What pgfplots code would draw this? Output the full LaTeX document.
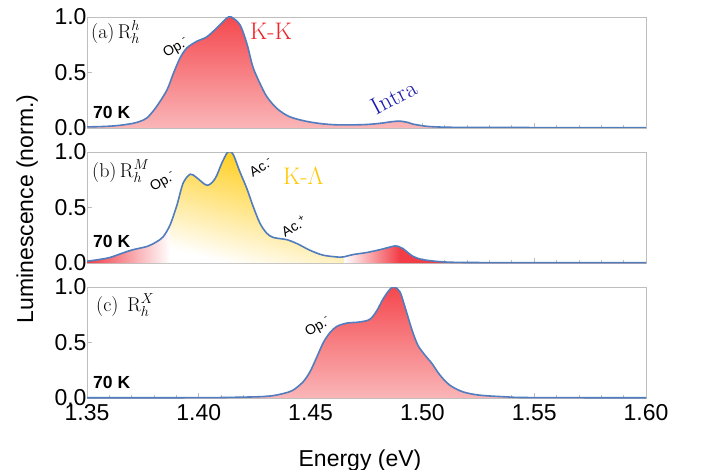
\documentclass[border=0pt]{standalone}
\usepackage{fontspec}
\setsansfont{Liberation Sans}
\usepackage{pgfplots}
\usepackage{pgfplotstable}
\pgfplotsset{compat=1.18}

\definecolor{lineblue}{RGB}{80,125,190}
\definecolor{fillred}{RGB}{244,72,78}
\definecolor{fillpink}{RGB}{250,182,184}
\definecolor{gold}{RGB}{255,200,0}
\definecolor{framegray}{RGB}{190,190,190}
\definecolor{intrablue}{RGB}{25,25,175}
\definecolor{kkred}{RGB}{240,35,40}
\definecolor{bred}{RGB}{242,60,70}

\newcommand{\hv}[1]{\fontsize{#1}{#1}\selectfont\sffamily}
\newcommand{\sr}[1]{\fontsize{#1}{#1}\selectfont\rmfamily}

\pgfplotstableread{
E I
1.3500 0.010
1.3550 0.012
1.3600 0.016
1.3650 0.025
1.3706 0.042
1.3740 0.062
1.3770 0.094
1.3810 0.190
1.3857 0.340
1.3886 0.490
1.3916 0.630
1.3946 0.720
1.3990 0.780
1.4035 0.820
1.4080 0.900
1.4125 0.990
1.4145 1.000
1.4184 0.930
1.4215 0.760
1.4242 0.550
1.4274 0.400
1.4305 0.280
1.4350 0.175
1.4408 0.100
1.4497 0.054
1.4600 0.030
1.4734 0.030
1.4810 0.042
1.4860 0.056
1.4900 0.062
1.4935 0.050
1.4958 0.035
1.5020 0.015
1.5090 0.008
1.5200 0.005
1.5500 0.004
1.6000 0.003
}\dataA

\pgfplotstableread{
E I
1.3500 0.016
1.3550 0.030
1.3603 0.050
1.3660 0.090
1.3706 0.120
1.3770 0.150
1.3810 0.190
1.3840 0.235
1.3871 0.340
1.3902 0.520
1.3930 0.720
1.3962 0.800
1.3990 0.770
1.4037 0.700
1.4073 0.760
1.4103 0.900
1.4130 1.000
1.4153 0.980
1.4184 0.820
1.4215 0.670
1.4243 0.510
1.4273 0.360
1.4303 0.270
1.4333 0.230
1.4394 0.210
1.4439 0.175
1.4497 0.115
1.4557 0.070
1.4632 0.052
1.4650 0.056
1.4690 0.076
1.4750 0.094
1.4810 0.120
1.4878 0.154
1.4900 0.142
1.4913 0.130
1.4958 0.060
1.5003 0.030
1.5079 0.012
1.5180 0.005
1.5500 0.003
1.6000 0.003
}\dataB

\pgfplotstableread{
E I
1.3500 0.002
1.4000 0.003
1.4153 0.006
1.4305 0.015
1.4377 0.040
1.4421 0.070
1.4466 0.145
1.4497 0.235
1.4528 0.370
1.4557 0.500
1.4587 0.590
1.4617 0.645
1.4663 0.675
1.4720 0.685
1.4766 0.710
1.4797 0.790
1.4825 0.895
1.4855 0.980
1.4875 1.000
1.4900 0.955
1.4922 0.820
1.4954 0.610
1.4980 0.475
1.5012 0.385
1.5043 0.310
1.5079 0.205
1.5123 0.115
1.5182 0.055
1.5258 0.025
1.5378 0.010
1.5480 0.004
1.6000 0.002
}\dataC

\pgfplotsset{panel/.style={
  scale only axis, width=559bp, height=111bp,
  anchor=north west,
  xmin=1.35, xmax=1.60, ymin=0, ymax=1.0,
  axis line style={framegray, line width=0.9bp},
  xtick={1.35,1.40,1.45,1.50,1.55,1.60},
  xticklabels={},
  minor x tick num=4,
  ytick={0,0.5,1},
  yticklabels={0.0,0.5,1.0},
  tick align=inside,
  xtick pos=bottom, ytick pos=left,
  major tick length=5bp, minor tick length=3bp,
  every tick/.style={framegray, line width=0.7bp},
  /pgf/number format/assume math mode=true,
  ticklabel style={font=\hv{23bp}},
  yticklabel style={xshift=3bp},
  xticklabel style={yshift=-3bp},
}}

\begin{document}
\begin{tikzpicture}
\path[use as bounding box] (0bp,0bp) rectangle (701bp,-470bp);

% panel a
\begin{axis}[panel, at={(87bp,-17bp)}]
\addplot[draw=none, top color=fillred, bottom color=fillpink, smooth] table[x=E,y=I] {\dataA} \closedcycle;
\addplot[lineblue, line width=1.6bp, smooth] table[x=E,y=I] {\dataA};
\end{axis}

% panel b
\begin{axis}[panel, at={(87bp,-152bp)}]
\addplot[draw=none, left color=bred, right color=white, smooth, restrict x to domain=1.35:1.3871] table[x=E,y=I] {\dataB} \closedcycle;
\addplot[draw=none, top color=gold, bottom color=white, shading angle=-15, smooth, restrict x to domain=1.3871:1.465] table[x=E,y=I] {\dataB} \closedcycle;
\addplot[draw=none, left color=white, right color=bred, smooth, restrict x to domain=1.465:1.490] table[x=E,y=I] {\dataB} \closedcycle;
\addplot[draw=none, fill=bred, smooth, restrict x to domain=1.490:1.60] table[x=E,y=I] {\dataB} \closedcycle;
\addplot[lineblue, line width=1.6bp, smooth] table[x=E,y=I] {\dataB};
\end{axis}

% panel c
\begin{axis}[panel, at={(87bp,-287bp)}, xticklabels={1.35,1.40,1.45,1.50,1.55,1.60}]
\addplot[draw=none, top color=fillred, bottom color=fillpink, smooth] table[x=E,y=I] {\dataC} \closedcycle;
\addplot[lineblue, line width=1.6bp, smooth] table[x=E,y=I] {\dataC};
\end{axis}

% axis labels
\node[rotate=90, anchor=base, font=\hv{23bp}] at (33bp,-209bp) {Luminescence (norm.)};
\node[anchor=base, font=\hv{23bp}] at (360bp,-466bp) {Energy (eV)};

% panel labels
\node[anchor=base west, inner sep=0, font=\sr{20bp}] at (91bp,-38bp) {(a)\,$\mathrm{R}_h^h$};
\node[anchor=base west, inner sep=0, font=\sr{20bp}] at (92bp,-177bp) {(b)\,$\mathrm{R}_h^M$};
\node[anchor=base west, inner sep=0, font=\sr{20bp}] at (96bp,-311bp) {(c)\;\,$\mathrm{R}_h^X$};

\node[anchor=base west, inner sep=0, font=\hv{17.5bp}\bfseries] at (93bp,-118bp) {70 K};
\node[anchor=base west, inner sep=0, font=\hv{17.5bp}\bfseries] at (93bp,-247.5bp) {70 K};
\node[anchor=base west, inner sep=0, font=\hv{17.5bp}\bfseries] at (93bp,-388bp) {70 K};

\node[anchor=base west, inner sep=0, text=kkred, font=\sr{24bp}] at (250bp,-39bp) {K-K};
\node[anchor=base west, inner sep=0, text=gold, font=\sr{24bp}] at (283bp,-184bp) {K-$\Lambda$};
\node[rotate=28, inner sep=0, text=intrablue, font=\sr{24bp}] at (394bp,-97bp) {Intra};

\node[rotate=30, inner sep=0, font=\hv{14bp}] at (176bp,-48bp) {Op.\textsuperscript{-}};
\node[rotate=30, inner sep=0, font=\hv{14bp}] at (163bp,-182bp) {Op.\textsuperscript{-}};
\node[rotate=30, inner sep=0, font=\hv{14bp}] at (261bp,-167bp) {Ac.\textsuperscript{-}};
\node[rotate=30, inner sep=0, font=\hv{14bp}] at (294bp,-226bp) {Ac.\textsuperscript{+}};
\node[rotate=30, inner sep=0, font=\hv{14bp}] at (318bp,-327bp) {Op.\textsuperscript{-}};
\end{tikzpicture}
\end{document}
